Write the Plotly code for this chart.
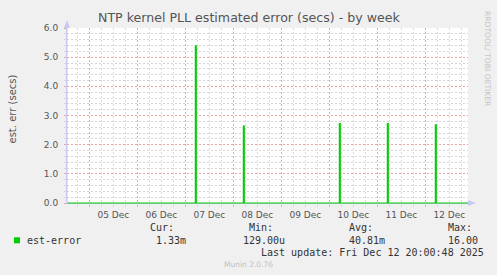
import plotly.graph_objects as go
from datetime import datetime, timedelta

# ---- data ----
x_start = "2025-12-04 12:51"
x_end = "2025-12-12 21:21"
spike_starts = ["2025-12-07 05:00", "2025-12-08 05:00", "2025-12-10 05:00",
                "2025-12-11 05:00", "2025-12-12 05:00"]
spike_values = [5.39, 2.64, 2.72, 2.72, 2.68]
baseline_value = 0.0
sample_minutes = 30
y_tick_values = [0, 1, 2, 3, 4, 5, 6]
y_tick_labels = ["0.0", "1.0", "2.0", "3.0", "4.0", "5.0", "6.0"]
series_name = "est-error"
stat_labels = ["Cur:", "Min:", "Avg:", "Max:"]
stat_values = ["1.33m", "129.00u", "40.81m", "16.00"]
title_text = "NTP kernel PLL estimated error (secs) - by week"
y_title = "est. err (secs)"
last_update = "Last update: Fri Dec 12 20:00:48 2025"
footer = "Munin 2.0.76"
side_text = "RRDTOOL/ TOBI OETIKER"

# ---- build step series ----
fmt = "%Y-%m-%d %H:%M"
xs = [x_start]
ys = [baseline_value]
for s, v in zip(spike_starts, spike_values):
    t0 = datetime.strptime(s, fmt)
    t1 = t0 + timedelta(minutes=sample_minutes)
    xs += [t0.strftime(fmt), t1.strftime(fmt)]
    ys += [v, baseline_value]
xs.append(x_end)
ys.append(baseline_value)

# minor grid positions (excluding the major ones)
x_minor = []
d0 = datetime(2025, 12, 4)
for d in range(10):
    for h in (6, 12, 18):
        x_minor.append((d0 + timedelta(days=d, hours=h)).strftime(fmt))
y_minor = [round(i * 0.2, 1) for i in range(31) if i % 5 != 0]

W, H = 497, 275
L, R, T, B = 67, 29, 28, 71
PW, PH = W - L - R, H - T - B


def px(x):
    return (x - L) / PW


def py(y):
    return (H - B - y) / PH


GREEN = "#00CC00"
MGRID = "#eaa2a2"
GRID = "#d6d6d6"
AXIS = "#c8c8f4"
TXT = "#555555"
MONO = "DejaVu Sans Mono"
SANS = "DejaVu Sans"
DASH = "2px,2px"

fig = go.Figure()
fig.add_trace(go.Scatter(x=xs, y=ys, mode="lines", line=dict(color=GREEN, width=1.1, shape="hv"),
                         hoverinfo="skip", showlegend=False))

fig.update_layout(
    width=W, height=H,
    margin=dict(l=L, r=R, t=T, b=B, pad=0),
    paper_bgcolor="#F0F0F0",
    plot_bgcolor="#FFFFFF",
    showlegend=False,
    xaxis=dict(
        range=[x_start, x_end],
        type="date",
        tick0="2025-12-05 00:00",
        dtick=86400000,
        ticklabelmode="period",
        tickformat="%d %b",
        showgrid=True, gridcolor=MGRID, griddash=DASH, gridwidth=1,
        ticks="outside", ticklen=2, tickcolor=MGRID,
        tickfont=dict(family=SANS, size=9, color=TXT),
        showline=False, zeroline=False,
        minor=dict(tickmode="array", tickvals=x_minor, showgrid=True,
                   gridcolor=GRID, griddash=DASH, gridwidth=1,
                   ticks="outside", ticklen=2, tickcolor=GRID),
        layer="below traces",
        ticklabelstandoff=0,
    ),
    yaxis=dict(
        range=[-6 / 175, 6],
        tickvals=y_tick_values, ticktext=y_tick_labels,
        showgrid=True, gridcolor=MGRID, griddash=DASH, gridwidth=1,
        ticks="outside", ticklen=2, tickcolor=MGRID,
        tickfont=dict(family=SANS, size=9, color=TXT),
        showline=True, linecolor=AXIS, linewidth=1,
        zeroline=True, zerolinecolor=AXIS, zerolinewidth=1,
        minor=dict(tickmode="array", tickvals=y_minor, showgrid=True, gridcolor=GRID,
                   griddash=DASH, gridwidth=1, ticks="outside", ticklen=2, tickcolor=GRID),
        layer="below traces",
        ticklabelstandoff=4,
    ),
)

ann = []


def add_text(text, x, y, size, color, family=SANS, xanchor="left", angle=0):
    ann.append(dict(text=text, x=px(x), y=py(y), xref="paper", yref="paper",
                    xanchor=xanchor, yanchor="middle", showarrow=False,
                    font=dict(family=family, size=size, color=color),
                    textangle=angle, borderpad=0, borderwidth=0))


add_text(title_text, 248.5, 17.5, 12.6, "#555555", xanchor="center")
add_text(y_title, 11.5, 109, 10, TXT, xanchor="center", angle=-90)
add_text(side_text, 487.5, 58.5, 7.6, "#c4c4c4", xanchor="center", angle=90)
add_text(series_name, 26.5, 240, 10, "#333333", family=MONO)
stat_label_x = [150, 249, 349, 447.5]
stat_value_x = [155.5, 242.5, 348.5, 447.5]
for lab, lx, val, vx in zip(stat_labels, stat_label_x, stat_values, stat_value_x):
    add_text(lab, lx, 228, 10, "#333333", family=MONO)
    add_text(val, vx, 240, 10, "#333333", family=MONO)
add_text(last_update, 261, 252, 10, "#333333", family=MONO)
add_text(footer, 248.5, 264, 7.5, "#c0c0c0", xanchor="center")
fig.update_layout(annotations=ann)

# legend swatch and axis arrows
shapes = [
    dict(type="rect", xref="paper", yref="paper", x0=px(14), x1=px(20), y0=py(243.3), y1=py(237.3),
         fillcolor=GREEN, line=dict(width=0)),
    dict(type="path", xref="paper", yref="paper",
         path=f"M {px(64)},{py(28)} L {px(70)},{py(28)} L {px(67)},{py(20)} Z",
         fillcolor=AXIS, line=dict(width=0)),
    dict(type="path", xref="paper", yref="paper",
         path=f"M {px(468)},{py(200)} L {px(468)},{py(206)} L {px(476)},{py(203)} Z",
         fillcolor=AXIS, line=dict(width=0)),
    dict(type="line", xref="paper", yref="paper", x0=px(67), x1=px(67), y0=py(204), y1=py(24),
         line=dict(color=AXIS, width=1)),
]
fig.update_layout(shapes=shapes)

fig.write_html("out.html")
